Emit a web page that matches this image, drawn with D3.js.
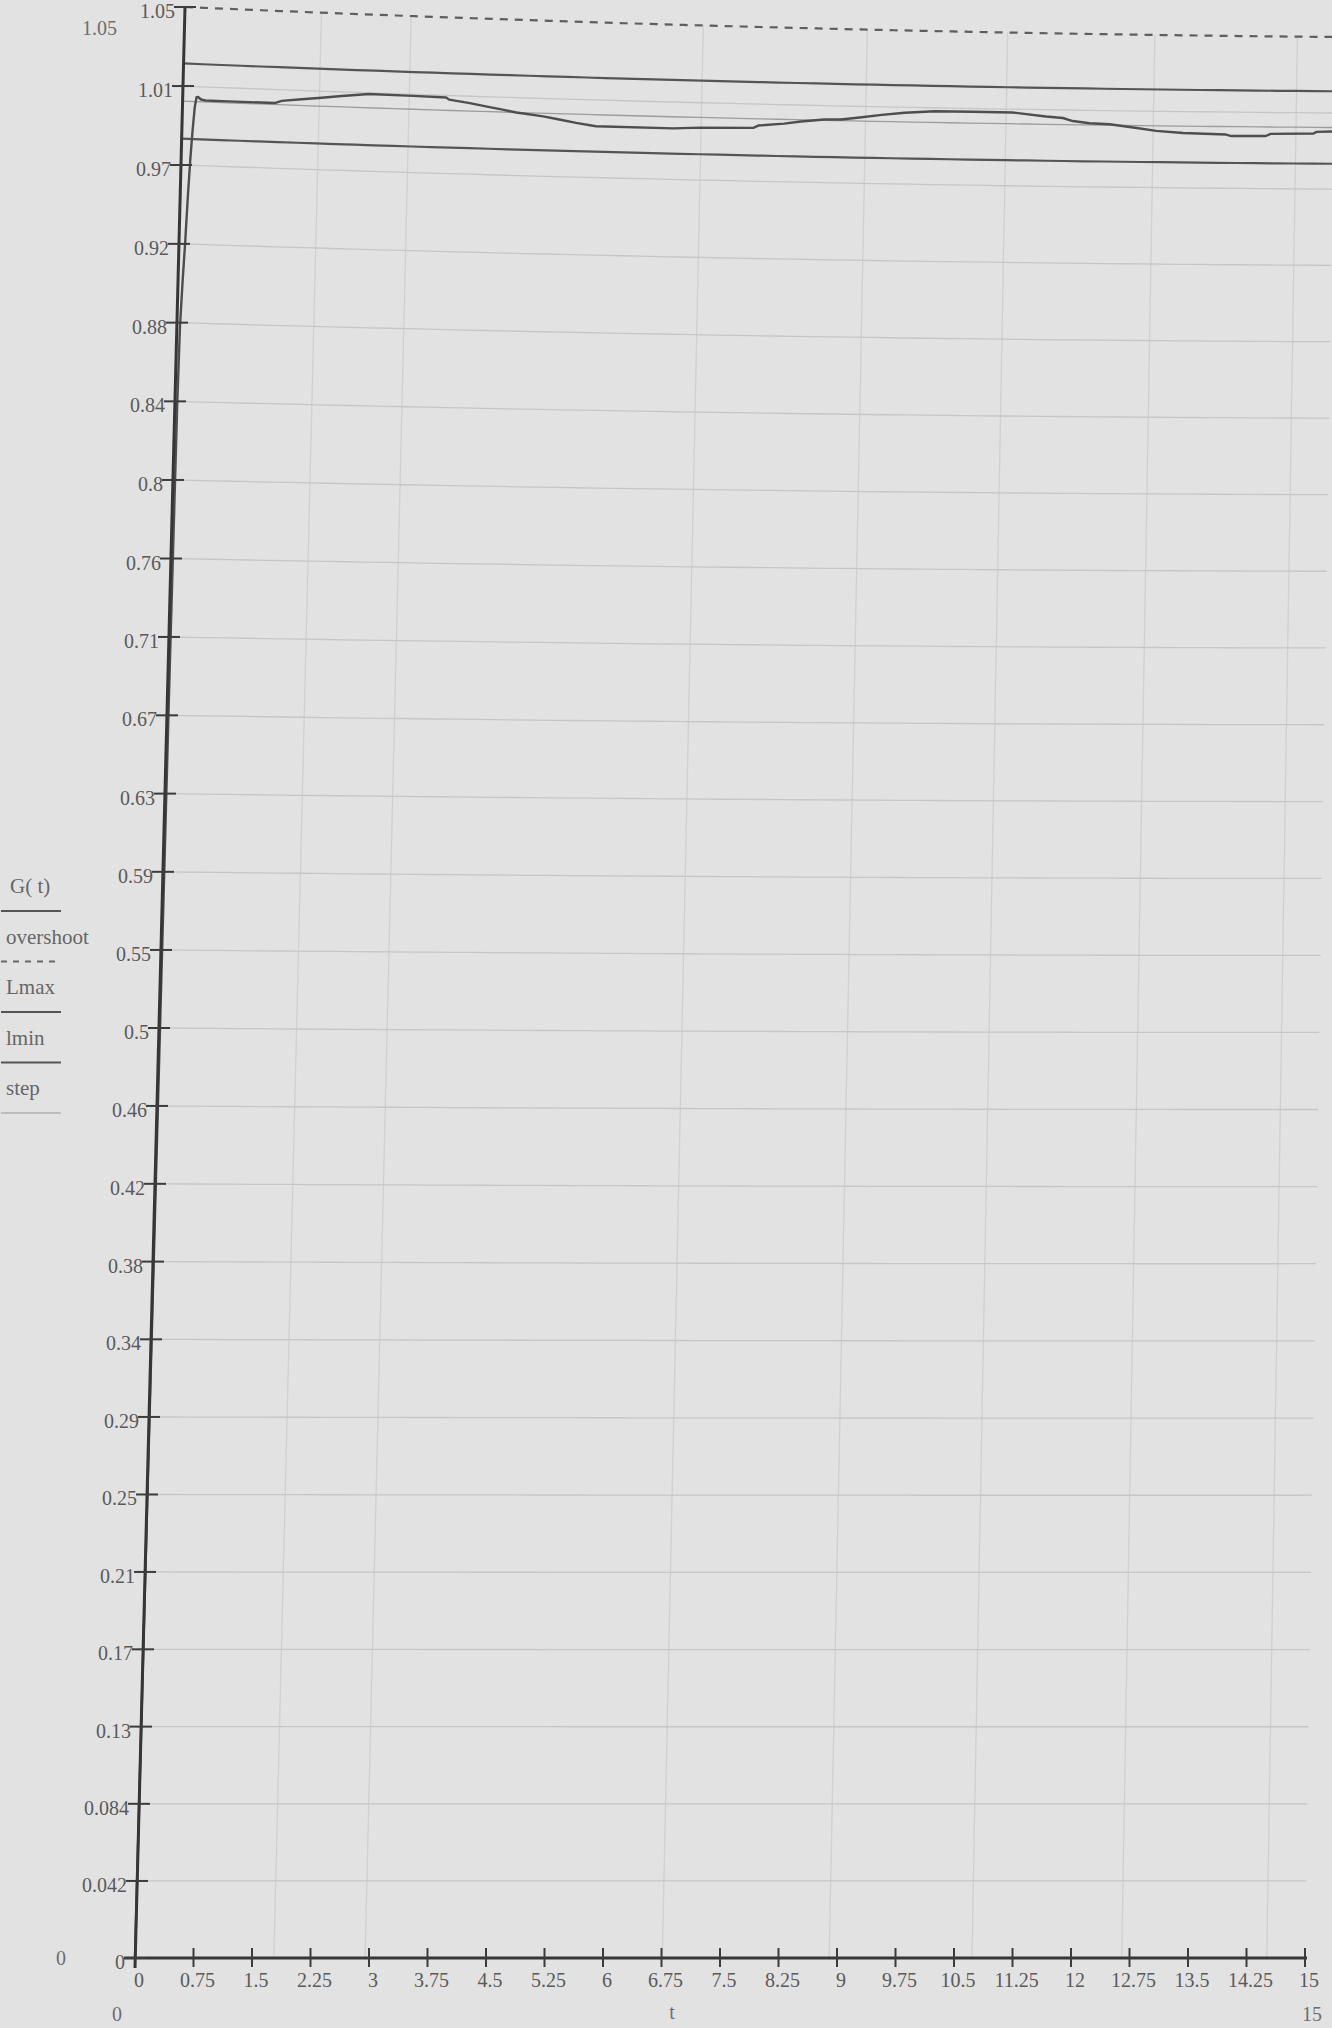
<!DOCTYPE html>
<html>
<head>
<meta charset="utf-8">
<script src="https://cdn.jsdelivr.net/npm/d3@7"></script>
<style>
    html, body { margin: 0; padding: 0; background: #e2e2e2; }
    svg { display: block; }
</style>
</head>
<body>
<div id="chart"></div>
<script>
// ------------------------------ Data ------------------------------------
// step response G(t)
var tValues = [0, 0.01, 0.02, 0.03, 0.04, 0.06, 0.08, 0.10, 0.12, 0.14, 0.16, 0.18, 0.20, 0.24, 0.30,
    0.60, 1.20, 1.29, 1.55, 1.81, 2.07, 2.34, 2.42, 3.00, 3.43, 3.47, 3.74, 3.95, 4.17, 4.35,
    4.70, 4.91, 5.13, 5.39, 6.40, 6.75, 7.44, 7.51, 7.84, 8.06, 8.36, 8.58, 8.85, 9.11, 9.41,
    9.80, 10.30, 10.81, 11.25, 11.47, 11.60, 11.82, 12.08, 12.39, 12.69, 13.04, 13.60, 13.67,
    14.12, 14.18, 14.74, 14.78, 15];
var gValues = [0, 0.40, 0.70, 0.84, 0.88, 0.905, 0.925, 0.95, 0.97, 0.985, 0.997, 1.0023, 1.0025, 1.0012, 1.0008,
    1.0008, 1.0008, 1.0021, 1.0033, 1.0045, 1.0058, 1.0070, 1.0074, 1.0072, 1.0069, 1.0058, 1.0043, 1.0028, 1.0013, 1.0000,
    0.9983, 0.9969, 0.9953, 0.9938, 0.9937, 0.9945, 0.9950, 0.9964, 0.9977, 0.9991, 1.0004, 1.0006, 1.0021, 1.0036, 1.0050,
    1.0061, 1.0062, 1.0062, 1.0043, 1.0036, 1.0020, 1.0009, 1.0005, 0.9989, 0.9972, 0.9962, 0.9956, 0.9948,
    0.9950, 0.9962, 0.9966, 0.9975, 0.9978];

// constant traces
var levelNames = ["overshoot", "Lmax", "lmin", "step"];
var levelValues = [1.05, 1.02, 0.98, 1];

// axes
var xLimits = [0, 15];
var yLimits = [0, 1.05];
var xTickLabels = ["0", "0.75", "1.5", "2.25", "3", "3.75", "4.5", "5.25", "6", "6.75", "7.5",
    "8.25", "9", "9.75", "10.5", "11.25", "12", "12.75", "13.5", "14.25", "15"];
var yTickLabels = ["0", "0.042", "0.084", "0.13", "0.17", "0.21", "0.25", "0.29", "0.34", "0.38",
    "0.42", "0.46", "0.5", "0.55", "0.59", "0.63", "0.67", "0.71", "0.76", "0.8", "0.84", "0.88",
    "0.92", "0.97", "1.01", "1.05"];
var legendLabels = ["G( t)", "overshoot", "Lmax", "lmin", "step"];

// faint vertical grid lines visible in the print
var gridT = [1.78, 2.95, 6.76, 8.9, 10.73, 12.65, 14.51];

(function (d3) {
    "use strict";

    var pageW = 1332, pageH = 2028;
    var W = 1170, H = 1951;
    var font = "'Liberation Serif', 'DejaVu Serif', serif";

    var svg = d3.select("#chart").append("svg")
        .attr("width", pageW)
        .attr("height", pageH);

    svg.append("rect")
        .attr("width", pageW)
        .attr("height", pageH)
        .attr("fill", "#e2e2e2");

    // -------------------------- Scales ----------------------------------
    var xScale = d3.scaleLinear().domain(xLimits).range([0, W]);
    var yScale = d3.scaleLinear().domain(yLimits).range([H, 0]);

    // the reference is a photo of a printout: the plot is slanted and a
    // bit bent, so plot coordinates go through this warp onto the page
    function warp(px, py) {
        var u = px / W, s = (H - py) / H;
        var xl = 135 + 50 * s, xr = 1305 + 30 * s;
        var bend = 1925.1 * s + 25.9 * s * s;
        var yl = 1958 - bend;
        var yr = 1958 - bend + 30 * Math.pow(Math.max(s, 0), 2.6);
        return [xl + u * (xr - xl), yl + u * (yr - yl) + 20 * u * (1 - u) * s * s];
    }

    function pt(t, v) {
        return warp(xScale(t), yScale(v));
    }

    var line = d3.line()
        .x(function (d) { return pt(d[0], d[1])[0]; })
        .y(function (d) { return pt(d[0], d[1])[1]; });

    var xTicks = xTickLabels.map(Number);
    var yTicks = yTickLabels.map(function (d, i) {
        return i * yLimits[1] / (yTickLabels.length - 1);
    });

    // sample positions for drawing a flat trace through the bend
    var samples = d3.range(0, 15.001, 0.25);

    // ------------------------- Grid lines -------------------------------
    var grid = svg.append("g").attr("class", "grid");
    gridT.forEach(function (t) {
        grid.append("path")
            .attr("d", line([[t, 0], [t, yLimits[1]]]))
            .attr("fill", "none")
            .attr("stroke", "#d0d0d0")
            .attr("stroke-width", 1.3);
    });
    yTicks.slice(1, -1).forEach(function (v) {
        grid.append("path")
            .attr("d", line(samples.map(function (t) { return [t, v]; })))
            .attr("fill", "none")
            .attr("stroke", "#c6c6c6")
            .attr("stroke-width", 1.3);
    });

    // ------------------------- Level traces -----------------------------
    var levelStyle = {
        "overshoot": { color: "#5e5e5e", width: 2.2, dash: "8,7" },
        "Lmax": { color: "#555555", width: 2.2, dash: null },
        "lmin": { color: "#555555", width: 2.2, dash: null },
        "step": { color: "#9c9c9c", width: 1.3, dash: null }
    };

    levelNames.forEach(function (name, i) {
        var st = levelStyle[name];
        svg.append("path")
            .attr("class", "line " + name)
            .attr("d", line(samples.map(function (t) { return [t, levelValues[i]]; })))
            .attr("fill", "none")
            .attr("stroke", st.color)
            .attr("stroke-width", st.width)
            .attr("stroke-dasharray", st.dash);
    });

    // ---------------------------- G(t) ----------------------------------
    var gData = tValues.map(function (t, i) { return [t, gValues[i]]; });
    svg.append("path")
        .attr("class", "line g")
        .attr("d", line(gData))
        .attr("fill", "none")
        .attr("stroke", "#4e4e4e")
        .attr("stroke-width", 2.4)
        .attr("stroke-linejoin", "round");

    // ---------------------------- Axes ----------------------------------
    var xAxis = d3.axisBottom(xScale)
        .tickValues(xTicks)
        .tickFormat(function (d, i) { return xTickLabels[i]; })
        .tickSizeOuter(0);
    var yAxis = d3.axisLeft(yScale)
        .tickValues(yTicks)
        .tickFormat(function (d, i) { return yTickLabels[i]; })
        .tickSizeOuter(0);

    var gx = svg.append("g").attr("class", "x axis").call(xAxis);
    var gy = svg.append("g").attr("class", "y axis").call(yAxis);

    [gx, gy].forEach(function (g) {
        g.attr("font-family", font).attr("font-size", 20);
        g.selectAll(".tick line").attr("stroke", "#3c3c3c").attr("stroke-width", 2);
        g.selectAll(".tick text").attr("fill", "#5a5a5a").attr("dy", null);
        g.select(".domain").attr("stroke", "#363636").attr("stroke-width", 3).attr("fill", "none");
    });

    // move the axes onto the warped plot
    var x0 = pt(0, 0), x1 = pt(15, 0), y1 = pt(0, yLimits[1]);
    gx.select(".domain").attr("d", "M" + (x0[0] - 11) + "," + x0[1] + "L" + (x1[0] + 2) + "," + x1[1]);
    gy.select(".domain").attr("d", "M" + x0[0] + "," + (x0[1] + 10) + "L" + y1[0] + "," + y1[1]);

    gx.selectAll(".tick").attr("transform", function (d) {
        var p = pt(d, 0);
        return "translate(" + p[0] + "," + p[1] + ")";
    });
    gx.selectAll(".tick line").attr("y1", -10).attr("y2", 9);
    gx.selectAll(".tick text").attr("x", 4).attr("y", 29);

    gy.selectAll(".tick").attr("transform", function (d) {
        var p = pt(0, d);
        return "translate(" + p[0] + "," + p[1] + ")";
    });
    gy.selectAll(".tick line").attr("x1", -11).attr("x2", 11);
    gy.selectAll(".tick text").attr("x", -10).attr("y", 11);

    // Mathcad limit labels and axis name
    var outer = svg.append("g")
        .attr("font-family", font)
        .attr("font-size", 20)
        .attr("fill", "#6e6e6e");
    outer.append("text").attr("x", 82).attr("y", 35).text(String(yLimits[1]));
    outer.append("text").attr("x", 56).attr("y", 1965).text(String(yLimits[0]));
    outer.append("text").attr("x", 112).attr("y", 2021).text(String(xLimits[0]));
    outer.append("text").attr("x", 1302).attr("y", 2021).text(String(xLimits[1]));
    outer.append("text").attr("x", 672).attr("y", 2019).attr("text-anchor", "middle").text("t");

    // --------------------------- Legend ---------------------------------
    var legendStyle = [
        { color: "#555555", width: 2, dash: null },
        { color: "#666666", width: 2, dash: "6,6" },
        { color: "#555555", width: 2, dash: null },
        { color: "#555555", width: 2, dash: null },
        { color: "#b0b0b0", width: 1.3, dash: null }
    ];
    var legend = svg.append("g")
        .attr("class", "legend")
        .attr("font-family", font)
        .attr("font-size", 21)
        .attr("fill", "#666666");

    legendLabels.forEach(function (label, i) {
        var base = 893 + i * 50.5;
        legend.append("text")
            .attr("x", i === 0 ? 10 : 6)
            .attr("y", base)
            .text(label);
        legend.append("line")
            .attr("x1", 1).attr("x2", 61)
            .attr("y1", base + 18).attr("y2", base + 18)
            .attr("stroke", legendStyle[i].color)
            .attr("stroke-width", legendStyle[i].width)
            .attr("stroke-dasharray", legendStyle[i].dash);
    });

})(d3);
</script>
</body>
</html>
